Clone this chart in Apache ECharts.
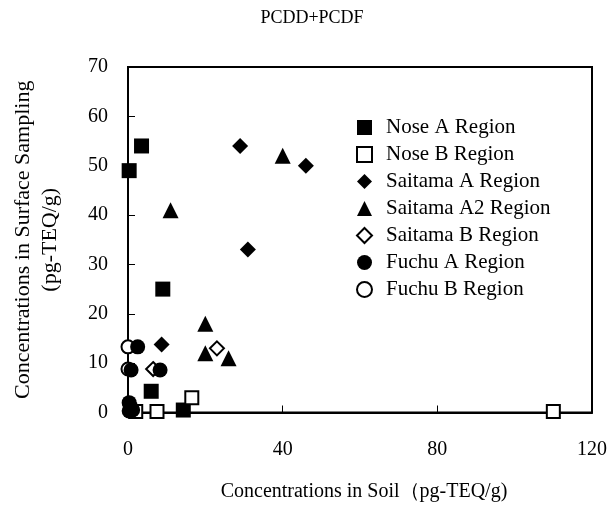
<!DOCTYPE html>
<html><head><meta charset="utf-8">
<script src="https://cdn.jsdelivr.net/npm/echarts@6/dist/echarts.min.js"></script>
<style>html,body{margin:0;padding:0;background:#fff}#c{width:610px;height:507px}</style>
</head><body><div id="c"></div>
<script>
const seriesNames = ['Nose A Region','Nose B Region','Saitama A Region','Saitama A2 Region','Saitama B Region','Fuchu A Region','Fuchu B Region'];
const noseA = [[0.3,49],[3.5,54],[9,25],[6,4.3],[14.3,0.5]];
const noseB = [[16.5,3],[7.5,0.2],[2,0.2],[110,0.2]];
const saitamaA = [[29,54],[46,50],[31,33],[8.7,13.8]];
const saitamaA2 = [[40,52],[11,41],[20,18],[20,12],[26,11]];
const saitamaB = [[23,13],[6.5,8.8]];
const fuchuA = [[2.5,13.3],[0.8,8.6],[8.3,8.6],[0.3,2],[0.8,1],[1.2,0.5],[0.3,0.3]];
const fuchuB = [[0,13.3],[0,8.8]];
const xTicks = [0,40,80,120];
const yTicks = [0,10,20,30,40,50,60,70];

const F = 'Liberation Serif';
const filled = {color:'#000', opacity:1};
const open = {color:'#fff', borderColor:'#000', borderWidth:2, opacity:1};
function s(name, data, symbol, size, style, z){
  return {name, type:'scatter', data, symbol, symbolSize:size, itemStyle:style, z:z||2, clip:false};
}
const chart = echarts.init(document.getElementById('c'), null, {renderer:'canvas'});
chart.setOption({
  animation:false,
  backgroundColor:'#fff',
  title:{text:'PCDD+PCDF', left:307, textAlign:'center', top:4, textStyle:{fontFamily:F, fontSize:18, fontWeight:'normal', color:'#000'}},
  grid:{left:128, right:17, top:67, bottom:94.5, show:true, borderColor:'#000', borderWidth:2, backgroundColor:'transparent'},
  legend:{orient:'vertical', left:351, top:112, itemWidth:15, itemHeight:15, itemGap:6,
    data:seriesNames, textStyle:{fontFamily:F, fontSize:21, color:'#000', lineHeight:21, padding:[0,0,0,9]}},
  xAxis:{type:'value', min:xTicks[0], max:xTicks[xTicks.length-1], interval:40,
    name:'Concentrations in Soil（pg-TEQ/g)', nameLocation:'middle', nameGap:69,
    nameTextStyle:{fontFamily:F, fontSize:20, color:'#000', padding:[0,0,0,8]},
    axisLine:{lineStyle:{color:'#000', width:2}}, axisTick:{inside:true, length:7, lineStyle:{color:'#000'}},
    axisLabel:{fontFamily:F, fontSize:20, color:'#000', margin:27}, splitLine:{show:false}},
  yAxis:{type:'value', min:yTicks[0], max:yTicks[yTicks.length-1], interval:10,
    name:'Concentrations in Surface Sampling\n(pg-TEQ/g)', nameLocation:'middle', nameGap:64,
    nameTextStyle:{fontFamily:F, fontSize:22, color:'#000', lineHeight:27},
    axisLine:{lineStyle:{color:'#000', width:2}}, axisTick:{inside:true, length:7, lineStyle:{color:'#000'}},
    axisLabel:{fontFamily:F, fontSize:20, color:'#000', margin:20}, splitLine:{show:false}},
  series:[
    s(seriesNames[0], noseA, 'rect', 15, filled, 3),
    s(seriesNames[1], noseB, 'rect', 13, open, 3),
    s(seriesNames[2], saitamaA, 'diamond', 16, filled, 3),
    s(seriesNames[3], saitamaA2, 'triangle', 16, filled, 3),
    s(seriesNames[4], saitamaB, 'diamond', 14, open, 3),
    s(seriesNames[5], fuchuA, 'circle', 15, filled, 4),
    s(seriesNames[6], fuchuB, 'circle', 13, open, 2)
  ]
});
</script></body></html>
